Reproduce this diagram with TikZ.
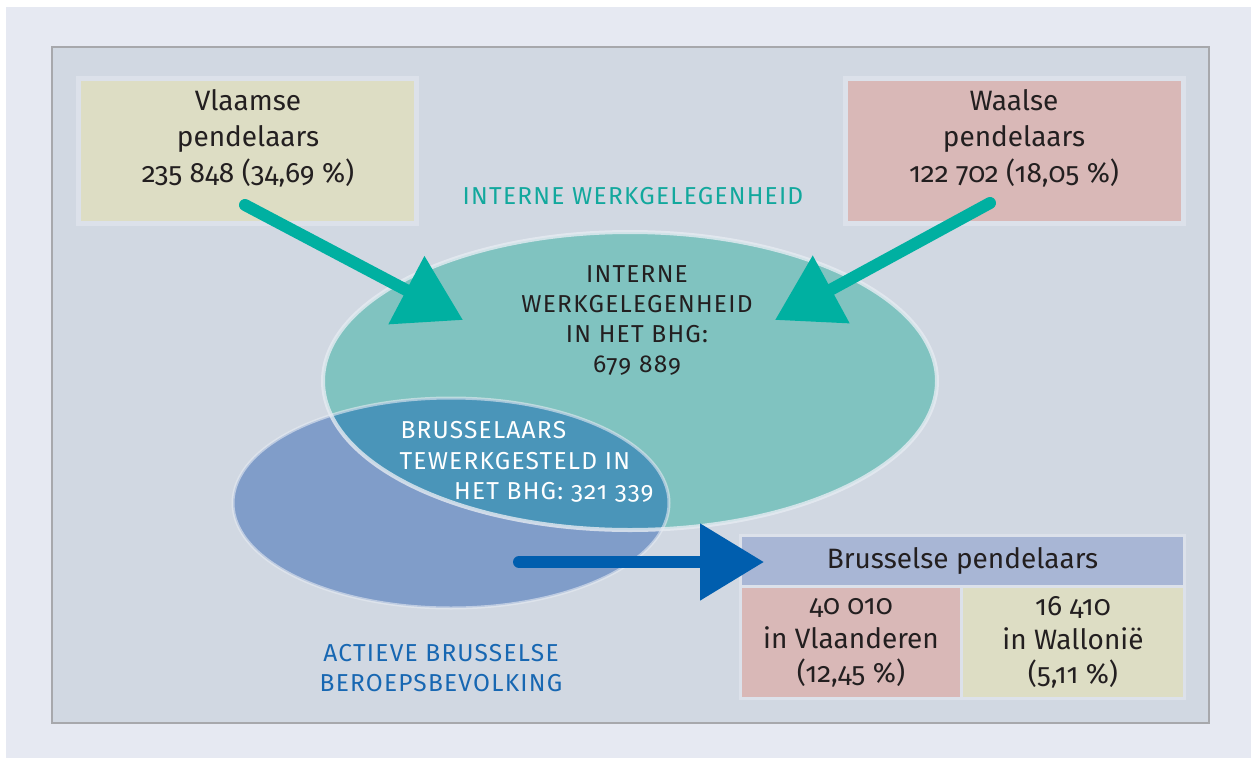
\documentclass[tikz,border=0pt]{standalone}
\usepackage{fontspec}
\setmainfont{Fira Sans}[Numbers=OldStyle]
\newfontfamily\capsfamily{Fira Sans}[Numbers=OldStyle,LetterSpace=5]
\usetikzlibrary{arrows.meta,positioning}

\definecolor{pagebg}{HTML}{E6E9F2}
\definecolor{panelbg}{HTML}{D1D8E2}
\definecolor{panelrule}{HTML}{A7A8AC}
\definecolor{boxrule}{HTML}{DCE1EA}
\definecolor{rim}{HTML}{E6EBF2}
\definecolor{flemish}{HTML}{DDDDC4}
\definecolor{walloon}{HTML}{D9B8B7}
\definecolor{jobsteal}{HTML}{80C3C0}
\definecolor{activeblue}{HTML}{809DC9}
\definecolor{overlapblue}{HTML}{4A95B9}
\definecolor{arrowteal}{HTML}{00B0A1}
\definecolor{arrowblue}{HTML}{005EAE}
\definecolor{headblue}{HTML}{A8B6D5}
\definecolor{textteal}{HTML}{12A89D}
\definecolor{textblue}{HTML}{1767B2}
\definecolor{ink}{HTML}{231F20}

\begin{document}
\begin{tikzpicture}[x=1pt,y=-1pt,
    flowbox/.style={draw=boxrule,line width=5pt,inner sep=0pt,outer sep=0pt,
      minimum width=338pt,minimum height=145pt},
    cellbox/.style={draw=boxrule,line width=3pt,inner sep=0pt,outer sep=0pt,
      font=\fontsize{28}{34}\selectfont,text=ink,align=center},
    boxtext/.style={font=\fontsize{28}{36}\selectfont,text=ink,align=center},
    capstext/.style={font=\capsfamily\fontsize{24.5}{30}\selectfont,align=center},
    flowarrow/.style={line width=12pt,line cap=round,
      -{Triangle[length=64pt,width=74pt]}}]
  \useasboundingbox (0,0) rectangle (1251,758);
  \fill[white] (0,0) rectangle (1251,758);
  \fill[pagebg] (6,7) rectangle (1251,758);
  \draw[panelrule,fill=panelbg,line width=2pt] (52,47) rectangle (1209,723);

  % commuter boxes
  \node[flowbox,fill=flemish] (vlaams) at (247.5,151) {};
  \node[flowbox,fill=walloon] (waals) at (1014.5,151) {};
  \node[boxtext] (vlaamstext) at (248,138) {Vlaamse\\pendelaars\\235 848 (34,69 \%)};
  \node[boxtext] (waalstext) at (1014,138) {Waalse\\pendelaars\\122 702 (18,05 \%)};

  % ellipses
  \fill[jobsteal] (630,381) ellipse [x radius=307pt,y radius=149pt];
  \fill[activeblue] (451,503) ellipse [x radius=218pt,y radius=105pt];
  \begin{scope}
    \clip (630,381) ellipse [x radius=307pt,y radius=149pt];
    \fill[overlapblue] (451,503) ellipse [x radius=218pt,y radius=105pt];
  \end{scope}
  \draw[rim,line width=4pt,opacity=.8] (630,381) ellipse [x radius=307pt,y radius=149pt];
  \draw[rim,line width=3pt,opacity=.6] (451,503) ellipse [x radius=218pt,y radius=105pt];

  % outgoing commuters
  \node[cellbox,fill=headblue,minimum width=444pt,minimum height=51pt]
    (head) at (962.5,561) {Brusselse pendelaars};
  \node[cellbox,fill=walloon,minimum width=221pt,minimum height=112pt,
    anchor=north west] (invl) at (head.south west) {40 010\\in Vlaanderen\\(12,45 \%)};
  \node[cellbox,fill=flemish,minimum width=223pt,minimum height=112pt,
    anchor=north east] (inwal) at (head.south east) {16 410\\in Wallonië\\(5,11 \%)};

  % arrows
  \coordinate (vstart) at (245,205);
  \coordinate (vtip) at (463,320);
  \coordinate (wstart) at (990,203);
  \coordinate (wtip) at (775,320);
  \coordinate (bstart) at (519,562);
  \coordinate (btip) at (764,562);
  \draw[flowarrow,arrowteal] (vstart) -- (vtip);
  \draw[flowarrow,arrowteal] (wstart) -- (wtip);
  \draw[flowarrow,arrowblue] (bstart) -- (btip);

  % labels
  \node[capstext,text=textteal] (jobslabel) at (633,196) {INTERNE WERKGELEGENHEID};
  \node[capstext,text=ink] (jobstext) at (637,321)
    {INTERNE\\WERKGELEGENHEID\\IN HET BHG:\\679 889};
  \node[capstext,text=white,anchor=west] (bxl1) at (397,430) {BRUSSELAARS};
  \node[capstext,text=white,anchor=west] (bxl2) at (396,461) {TEWERKGESTELD IN};
  \node[capstext,text=white,anchor=east] (bxl3) at (657,492) {HET BHG: 321 339};
  \node[capstext,text=textblue] (activelabel) at (441,668)
    {ACTIEVE BRUSSELSE\\BEROEPSBEVOLKING};
\end{tikzpicture}
\end{document}
